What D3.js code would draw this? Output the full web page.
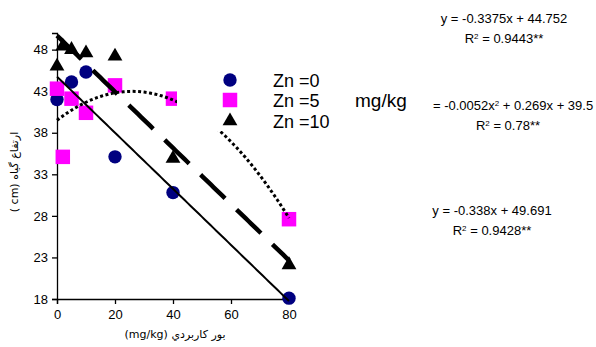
<!DOCTYPE html>
<html>
<head>
<meta charset="utf-8">
<script src="https://cdn.jsdelivr.net/npm/d3@7"></script>
<style>
  body { margin: 0; background: #fff; }
  svg { font-family: "Liberation Sans", Arial, sans-serif; }
</style>
</head>
<body>
<svg id="chart"></svg>
<script>
// chart size
const width = 596, height = 347;

// boron doses (mg/kg) and plant height (cm) for each zinc level
const zn0X = [0, 5, 10, 20, 40, 80];
const zn0Y = [42.0, 44.1, 45.3, 35.1, 30.8, 18.1];
const zn5X = [0, 2, 5, 10, 20, 40, 80];
const zn5Y = [43.3, 35.1, 42.1, 40.4, 43.7, 42.1, 27.6];
const zn10X = [0, 2, 5, 10, 20, 40, 80];
const zn10Y = [46.0, 48.4, 48.0, 47.6, 47.2, 34.9, 22.1];

// fitted trendlines (coefficients as shown on the chart: a*x^2 + b*x + c)
const fit0 = [0, -0.3375, 44.752];
const fit5 = [-0.0052, 0.269, 39.5];
const fit10 = [0, -0.338, 49.691];

const xTicks = [0, 20, 40, 60, 80];
const yTicks = [18, 23, 28, 33, 38, 43, 48];
const legendLabels = ["Zn =0", "Zn =5", "Zn =10"];

const svg = d3.select("#chart")
    .attr("width", width)
    .attr("height", height);

const x = d3.scaleLinear().domain([0, 80]).range([57, 289]);
const y = d3.scaleLinear().domain([18, 50]).range([299, 33]);

// axes
const xAxis = svg.append("g")
    .attr("transform", "translate(0," + y(18) + ")")
    .call(d3.axisBottom(x).tickValues(xTicks).tickSizeOuter(0).tickSize(5).tickPadding(6));
const yAxis = svg.append("g")
    .attr("transform", "translate(" + x(0) + ",0)")
    .call(d3.axisLeft(y).tickValues(yTicks).tickSizeOuter(0).tickSize(5).tickPadding(4));

[xAxis, yAxis].forEach(function(g) {
    g.selectAll("path, line").attr("stroke", "#000").attr("stroke-width", 1.3);
    g.selectAll("text").attr("font-size", "13px").attr("fill", "#000")
        .attr("font-family", "Liberation Sans, Arial, sans-serif");
});

// axis titles
svg.append("text")
    .attr("x", 175).attr("y", 338)
    .attr("text-anchor", "middle")
    .attr("font-size", "11px")
    .attr("font-family", "DejaVu Sans, sans-serif")
    .text("(mg/kg) بور کاربردي");

svg.append("text")
    .attr("transform", "translate(18,172) rotate(-90)")
    .attr("text-anchor", "middle")
    .attr("font-size", "11px")
    .attr("font-family", "DejaVu Sans, sans-serif")
    .text("( cm) ارتفاع گیاه");

// markers
const circle = d3.symbol().type(d3.symbolCircle).size(141);
const square = d3.symbol().type(d3.symbolSquare).size(210);
const triangle = d3.symbol().type(d3.symbolTriangle).size(95);

svg.selectAll(".zn0")
    .data(zn0X.map((d, i) => [d, zn0Y[i]]))
    .enter().append("path")
    .attr("class", "zn0")
    .attr("d", circle)
    .attr("transform", d => "translate(" + x(d[0]) + "," + y(d[1]) + ")")
    .attr("fill", "#000080");

svg.selectAll(".zn5")
    .data(zn5X.map((d, i) => [d, zn5Y[i]]))
    .enter().append("path")
    .attr("class", "zn5")
    .attr("d", square)
    .attr("transform", d => "translate(" + x(d[0]) + "," + y(d[1]) + ")")
    .attr("fill", "#ff00ff");

svg.selectAll(".zn10")
    .data(zn10X.map((d, i) => [d, zn10Y[i]]))
    .enter().append("path")
    .attr("class", "zn10")
    .attr("d", triangle)
    .attr("transform", d => "translate(" + x(d[0]) + "," + y(d[1]) + ")")
    .attr("fill", "#000");

// trendlines
function fitPoints(c) {
    return d3.range(0, 80.5, 1).map(v => [v, c[0] * v * v + c[1] * v + c[2]]);
}
const line = d3.line().x(d => x(d[0])).y(d => y(d[1]));

svg.append("path")
    .attr("d", line(fitPoints(fit0)))
    .attr("fill", "none").attr("stroke", "#000").attr("stroke-width", 2);

svg.append("path")
    .attr("d", line(fitPoints(fit10)))
    .attr("fill", "none").attr("stroke", "#000").attr("stroke-width", 4.5)
    .attr("stroke-dasharray", "34,16");

svg.append("path")
    .attr("d", line(fitPoints(fit5)))
    .attr("fill", "none").attr("stroke", "#000").attr("stroke-width", 3)
    .attr("stroke-dasharray", "3,2.5");

// legend (white box over the plot)
const legend = svg.append("g");
legend.append("rect")
    .attr("x", 177).attr("y", 65).attr("width", 254).attr("height", 66)
    .attr("fill", "#fff");

const legendSymbols = [
    { sym: circle, fill: "#000080" },
    { sym: square, fill: "#ff00ff" },
    { sym: triangle, fill: "#000" }
];
const legendY = [80, 100, 121];
legendSymbols.forEach(function(s, i) {
    legend.append("path")
        .attr("d", s.sym)
        .attr("transform", "translate(230," + legendY[i] + ")")
        .attr("fill", s.fill);
    legend.append("text")
        .attr("x", 273).attr("y", legendY[i] + 7)
        .attr("font-size", "18px")
        .text(legendLabels[i]);
});
legend.append("text")
    .attr("x", 355).attr("y", 107)
    .attr("font-size", "19px")
    .text("mg/kg");

// equations
function equation(cx, cy, eq, r2) {
    const t = svg.append("text")
        .attr("x", cx).attr("y", cy)
        .attr("text-anchor", "middle")
        .attr("font-size", "13px");
    eq.forEach(function(part) {
        t.append("tspan")
            .attr("baseline-shift", part.sup ? "super" : null)
            .attr("font-size", part.sup ? "8px" : null)
            .text(part.t);
    });
    const t2 = svg.append("text")
        .attr("x", cx).attr("y", cy + 20)
        .attr("text-anchor", "middle")
        .attr("font-size", "13px");
    t2.append("tspan").text("R");
    t2.append("tspan").attr("baseline-shift", "super").attr("font-size", "8px").text("2");
    t2.append("tspan").text(" = " + r2 + "**");
}

equation(504, 23, [{ t: "y = -0.3375x + 44.752" }], "0.9443");
equation(508, 110, [{ t: "y = -0.0052x" }, { t: "2", sup: true }, { t: " + 0.269x + 39.5" }], "0.78");
equation(492, 215, [{ t: "y = -0.338x + 49.691" }], "0.9428");

// bring legend above equation 2 so the leading "y" is hidden, as in the original
legend.raise();
</script>
</body>
</html>
